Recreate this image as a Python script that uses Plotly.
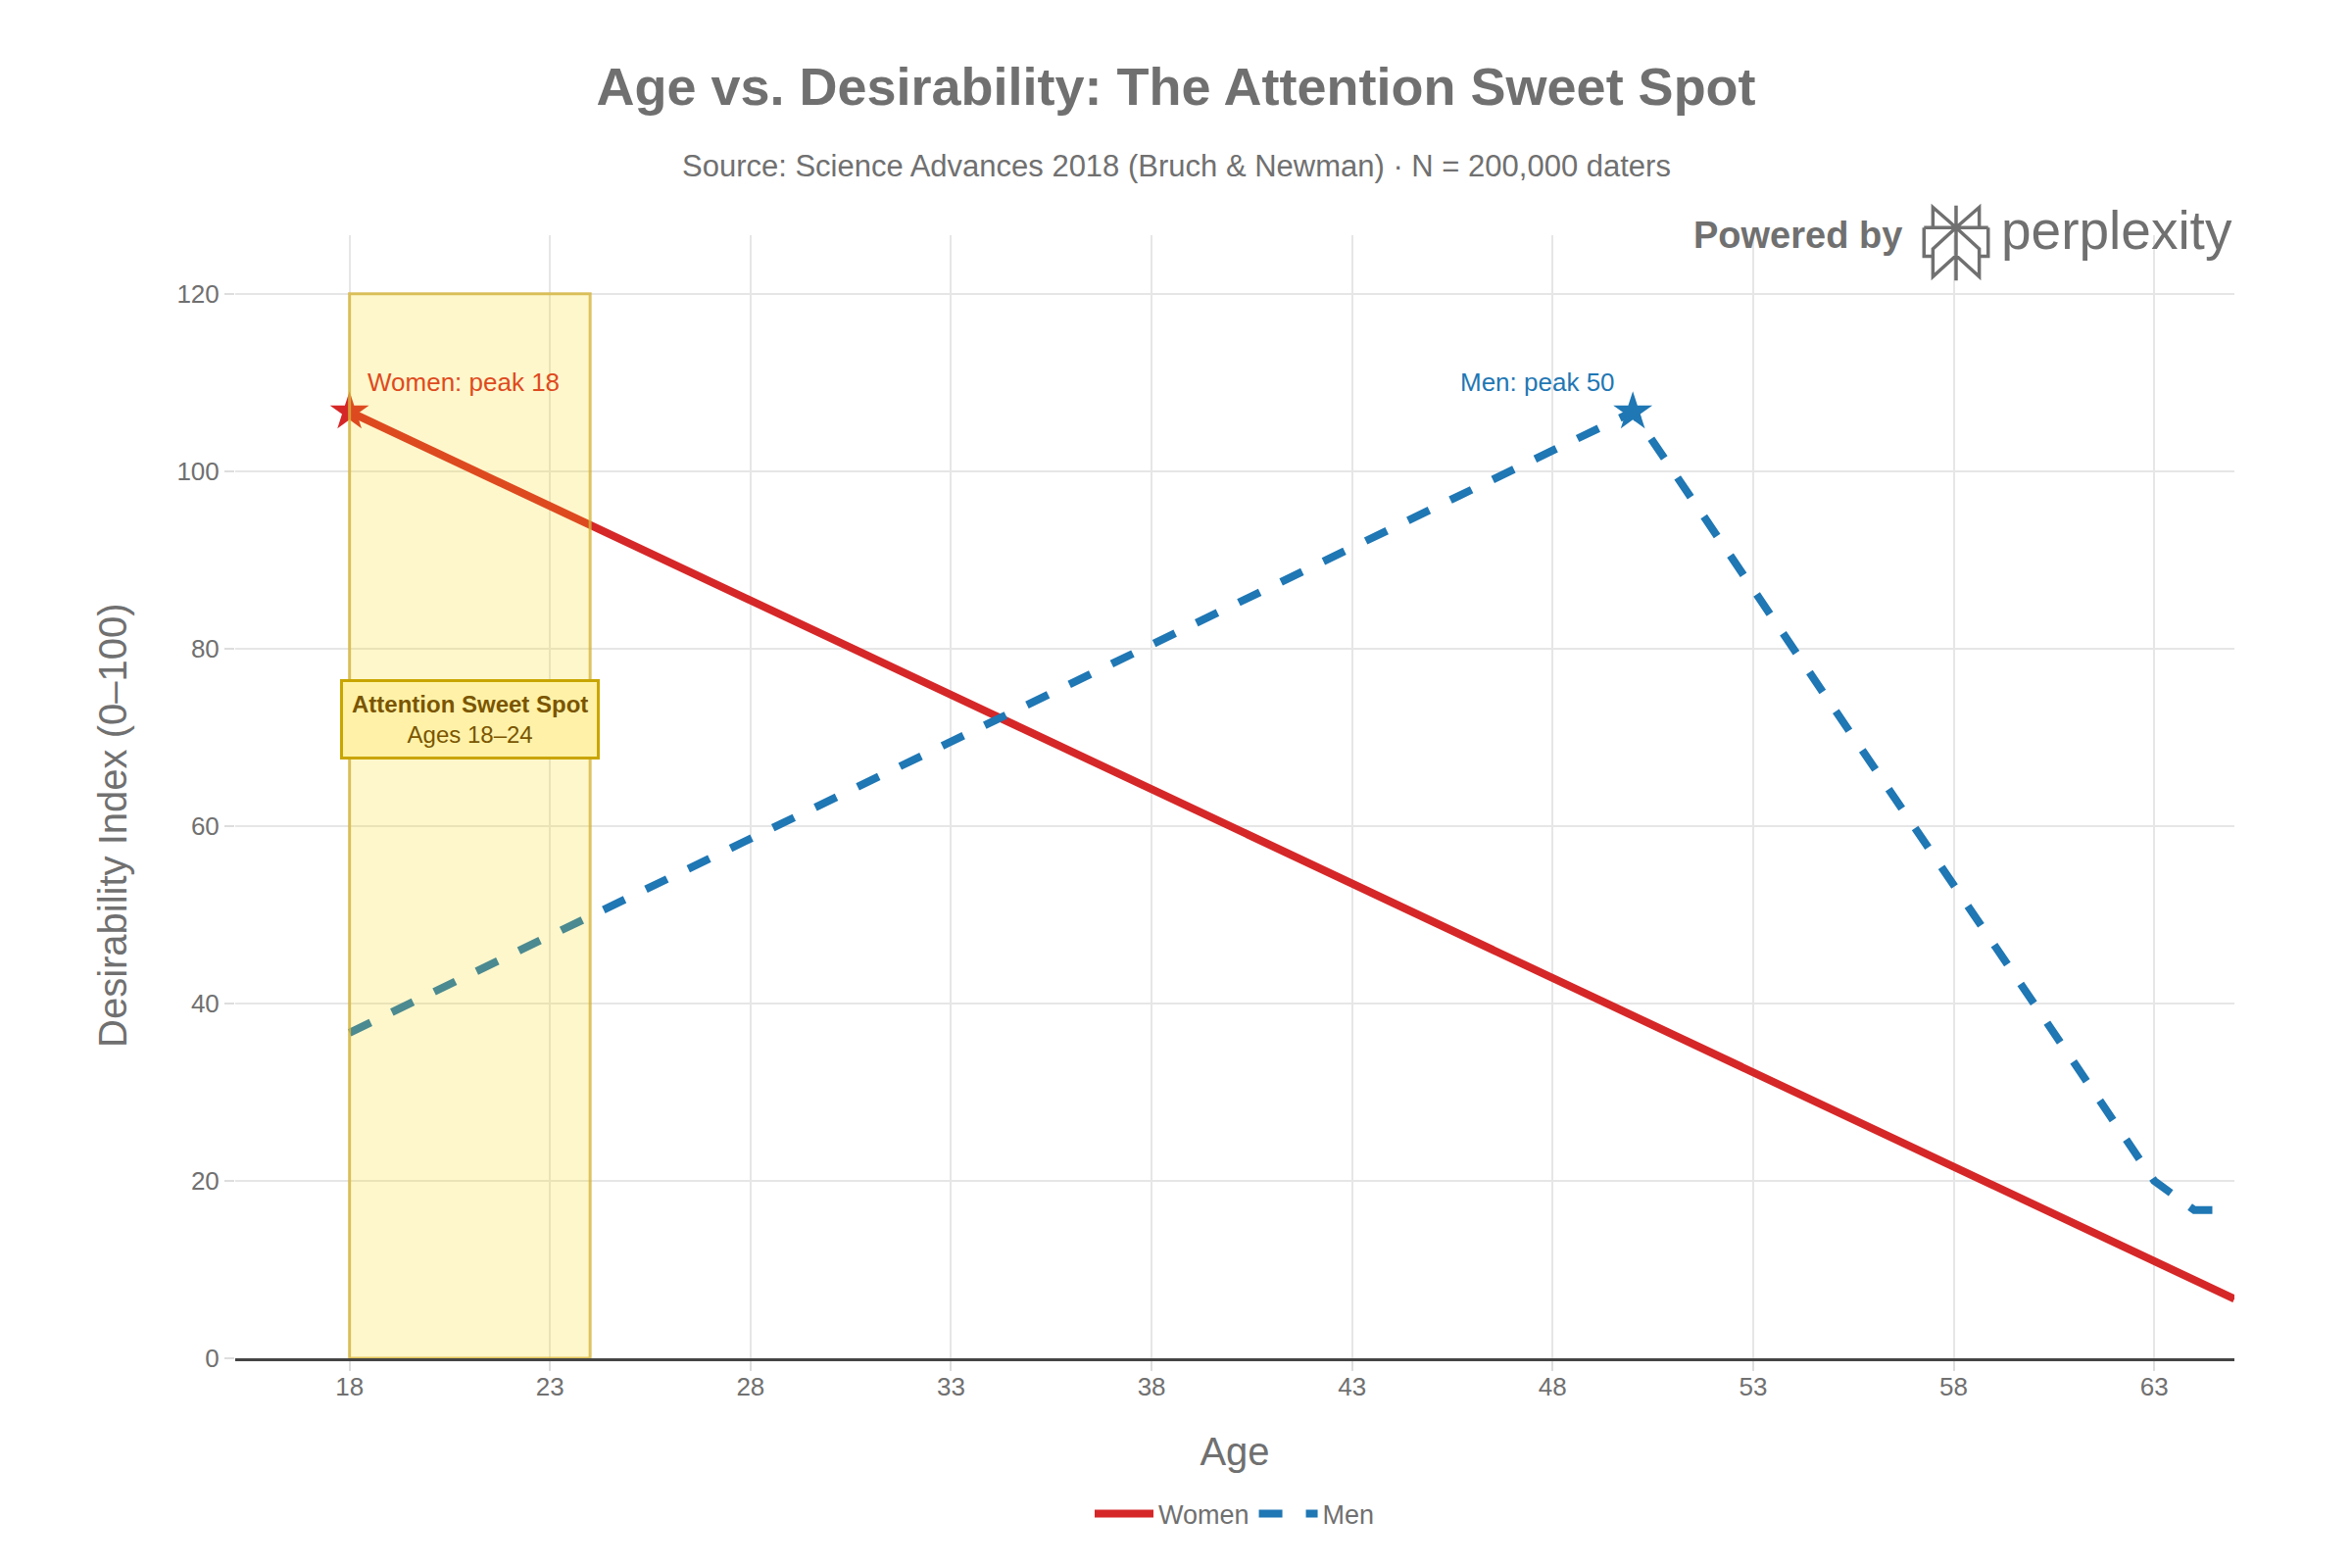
import plotly.graph_objects as go

# ---------------- data ----------------
women_ages = [18, 65]
women_values = [106.7, 6.7]
men_ages = [18, 50, 63, 64, 65]
men_values = [36.7, 106.7, 20.0, 16.7, 16.7]
women_peak = (18, 106.7)
men_peak = (50, 106.7)
sweet_spot = (18, 24)
x_ticks = [18, 23, 28, 33, 38, 43, 48, 53, 58, 63]
y_ticks = [0, 20, 40, 60, 80, 100, 120]

TITLE = "Age vs. Desirability: The Attention Sweet Spot"
SUBTITLE = "Source: Science Advances 2018 (Bruch & Newman) · N = 200,000 daters"

RED = "#D62728"
BLUE = "#1F77B4"
GRAY = "#707070"
FONT = "Liberation Sans, Arial, sans-serif"

W, H = 2400, 1600
ML, MR, MT, MB = 240, 120, 240, 214
PW, PH = W - ML - MR, H - MT - MB


def px(x):
    return (x - ML) / PW


def py(y):
    return (H - MB - y) / PH


fig = go.Figure()

fig.add_trace(go.Scatter(x=women_ages, y=women_values, mode="lines", name="Women",
                         line=dict(color=RED, width=8)))
fig.add_trace(go.Scatter(x=men_ages, y=men_values, mode="lines", name="Men",
                         line=dict(color=BLUE, width=8, dash="dash")))
fig.add_trace(go.Scatter(x=[women_peak[0]], y=[women_peak[1]], mode="markers", showlegend=False,
                         marker=dict(symbol="star", size=30, color=RED)))
fig.add_trace(go.Scatter(x=[men_peak[0]], y=[men_peak[1]], mode="markers", showlegend=False,
                         marker=dict(symbol="star", size=30, color=BLUE)))

# sweet spot band
fig.add_shape(type="rect", xref="x", yref="y", x0=sweet_spot[0], x1=sweet_spot[1], y0=0, y1=120,
              fillcolor="rgba(255,215,0,0.2)", line=dict(color="rgba(214,180,60,0.8)", width=3),
              layer="above")

# perplexity logo icon (decorative)
ox, oy, sx, sy = 1700, 196, 2.75, 2.9
segs = [
    [(770, 40), (770, 262)],
    [(705, 105), (705, 45), (770, 105), (835, 45), (835, 105)],
    [(680, 105), (860, 105)],
    [(705, 190), (680, 190), (680, 105)],
    [(835, 190), (860, 190), (860, 105)],
    [(770, 105), (705, 168), (705, 250), (770, 188)],
    [(770, 105), (835, 168), (835, 250), (770, 188)],
]
path = ""
for seg in segs:
    for i, (cx, cy) in enumerate(seg):
        X = px(ox + 1720 * 0 + cx / sx + 16)
        Y = py(oy + cy / sy)
        path += ("M" if i == 0 else "L") + f"{X:.5f},{Y:.5f} "
fig.add_shape(type="path", xref="paper", yref="paper", path=path,
              line=dict(color=GRAY, width=3.5))

annotations = [
    dict(text=SUBTITLE, xref="paper", yref="paper", x=px(1200), y=py(170), xanchor="center",
         yanchor="middle", showarrow=False, font=dict(size=31, color=GRAY, family=FONT)),
    dict(text="<b>Powered by</b>", xref="paper", yref="paper", x=px(1726), y=py(240),
         xanchor="left", yanchor="middle", showarrow=False,
         font=dict(size=38, color=GRAY, family=FONT)),
    dict(text="perplexity", xref="paper", yref="paper", x=px(2040), y=py(235),
         xanchor="left", yanchor="middle", showarrow=False,
         font=dict(size=55, color=GRAY, family=FONT)),
    dict(text="Desirability Index (0–100)", xref="paper", yref="paper", x=px(115), y=py(842),
         xanchor="center", yanchor="middle", textangle=-90, showarrow=False,
         font=dict(size=40, color=GRAY, family=FONT)),
    dict(text="Women: peak 18", x=women_peak[0], y=women_peak[1], xanchor="left",
         yanchor="middle", xshift=16, yshift=30, showarrow=False,
         font=dict(size=26, color="rgb(222,74,32)", family=FONT)),
    dict(text="Men: peak 50", x=men_peak[0], y=men_peak[1], xanchor="right",
         yanchor="middle", xshift=-16, yshift=30, showarrow=False,
         font=dict(size=26, color=BLUE, family=FONT)),
    dict(text="<b>Attention Sweet Spot</b><br>Ages 18–24",
         x=(sweet_spot[0] + sweet_spot[1]) / 2, y=72, xanchor="center", yanchor="middle",
         showarrow=False, bgcolor="#FFF2A8", bordercolor="#C9A500", borderwidth=3, borderpad=9,
         font=dict(size=24, color="#7A5500", family=FONT)),
]

fig.update_layout(
    width=W, height=H,
    paper_bgcolor="white", plot_bgcolor="white",
    margin=dict(l=ML, r=MR, t=MT, b=MB),
    font=dict(family=FONT, color=GRAY, size=26),
    title=dict(text=f"<b>{TITLE}</b>", x=0.5, xanchor="center", y=1 - 88 / H, yanchor="middle",
               font=dict(size=54, color=GRAY, family=FONT)),
    xaxis=dict(range=[15.15, 65.0], tickvals=x_ticks, showgrid=True, gridcolor="#E6E6E6",
               gridwidth=2, ticks="outside", ticklen=10, tickwidth=2, tickcolor="#DDDDDD",
               showline=True, linecolor="#444444", linewidth=3, zeroline=False,
               tickfont=dict(size=26, color=GRAY), ticklabelstandoff=-6,
               title=dict(text="Age", font=dict(size=40, color=GRAY), standoff=38)),
    yaxis=dict(range=[0, 126.6], tickvals=y_ticks, showgrid=True, gridcolor="#E6E6E6",
               gridwidth=2, ticks="outside", ticklen=10, tickwidth=2, tickcolor="#DDDDDD",
               zeroline=False, showline=False,
               tickfont=dict(size=26, color=GRAY)),
    legend=dict(orientation="h", x=0.5, xanchor="center", y=py(1545), yanchor="middle",
                font=dict(size=27, color=GRAY), itemwidth=60),
    annotations=annotations,
    showlegend=True,
)

fig.write_html("out.html")
